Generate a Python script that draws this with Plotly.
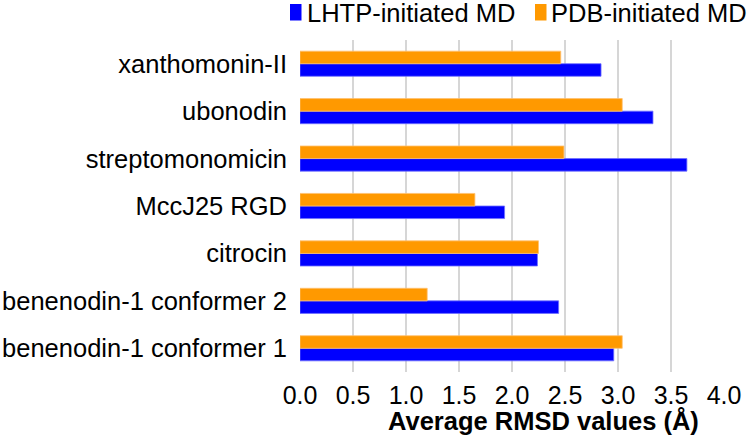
import plotly.graph_objects as go

# categories listed bottom-to-top (plotly draws first category at bottom)
categories = [
    "benenodin-1 conformer 1",
    "benenodin-1 conformer 2",
    "citrocin",
    "MccJ25 RGD",
    "streptomonomicin",
    "ubonodin",
    "xanthomonin-II",
]
lhtp_values = [2.96, 2.44, 2.24, 1.93, 3.65, 3.33, 2.84]
pdb_values = [3.04, 1.20, 2.25, 1.65, 2.49, 3.04, 2.46]
x_ticks = [0.0, 0.5, 1.0, 1.5, 2.0, 2.5, 3.0, 3.5, 4.0]
series_names = ["LHTP-initiated MD", "PDB-initiated MD"]
series_colors = ["#0000FF", "#FF9900"]
edge_colors = ["#7070ff", "#ffc070"]

FONT = "Liberation Sans, Arial, sans-serif"
W, H = 750, 438
pl, pr, pt, pb = 300, 724, 40, 372


def px_x(x):
    return (x - pl) / (pr - pl)


def px_y(y):
    return (pb - y) / (pb - pt)


fig = go.Figure()
for name, vals, col, ec in zip(series_names, [lhtp_values, pdb_values],
                               series_colors, edge_colors):
    fig.add_trace(go.Bar(
        y=categories, x=vals, orientation="h", name=name,
        marker=dict(color=col, line=dict(color=ec, width=0.8)),
    ))

# manual legend (symbol + text) placed like the reference
shapes = []
annotations = []
legend_pos = [(290, 307), (535, 551)]
for (sx, tx), name, col in zip(legend_pos, series_names, series_colors):
    shapes.append(dict(
        type="rect", xref="paper", yref="paper",
        x0=px_x(sx), x1=px_x(sx + 11.5), y0=px_y(20.5), y1=px_y(4),
        fillcolor=col, line=dict(width=0),
    ))
    annotations.append(dict(
        text=name, x=px_x(tx), y=px_y(13.5), xref="paper", yref="paper",
        xanchor="left", yanchor="middle", showarrow=False,
        font=dict(size=25.5), xshift=-2,
    ))

annotations.append(dict(
    text="<b>Average RMSD values (Å)</b>", x=px_x(543), y=px_y(421),
    xref="paper", yref="paper", xanchor="center", yanchor="middle",
    showarrow=False, font=dict(size=25.5),
))

fig.update_layout(
    width=W, height=H,
    margin=dict(l=pl, r=W - pr, t=pt, b=H - pb),
    paper_bgcolor="white", plot_bgcolor="white",
    barmode="group", bargap=0.47, bargroupgap=0.0,
    font=dict(family=FONT, size=25.5, color="black"),
    showlegend=False,
    xaxis=dict(
        range=[0, 4.0], tickvals=x_ticks, tickformat=".1f",
        showgrid=True, gridcolor="#d6d6d6", gridwidth=2,
        zeroline=False, showline=False, ticks="",
        tickfont=dict(size=25), automargin=False,
        ticklabelstandoff=6,
    ),
    yaxis=dict(
        categoryorder="array", categoryarray=categories,
        showgrid=False, showline=False, ticks="", zeroline=False,
        ticklabelstandoff=12, automargin=False,
        tickfont=dict(size=25.5),
    ),
    shapes=shapes,
    annotations=annotations,
)

fig.write_html(
    "out.html",
    config={"displayModeBar": False},
    post_script="document.body.style.margin='0';document.body.style.overflow='hidden';",
)
